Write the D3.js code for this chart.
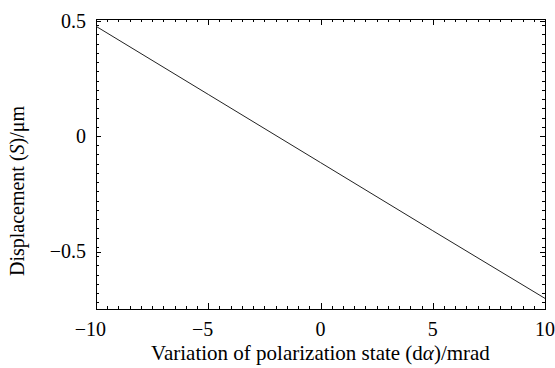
<!DOCTYPE html>
<html>
<head>
<meta charset="utf-8">
<script src="https://cdn.jsdelivr.net/npm/d3@7"></script>
<style>
    body { margin: 0; background: #fff; }
    text { font-family: "Liberation Serif", "Times New Roman", serif; fill: #000; }
</style>
</head>
<body>
<div id="chart"></div>
<script>
// values
const dAlpha = [-10, -5, 0, 5, 10];
const displacement = [0.475, 0.18, -0.115, -0.41, -0.703];
const xTicks = [-10, -5, 0, 5, 10];
const yTicks = [-0.5, 0, 0.5];
const xMinorStep = 0.5;
const yMinorStep = 0.04;

const width = 555, height = 368;
const margin = {left: 96, right: 10, top: 19, bottom: 59};

const svg = d3.select('#chart')
    .append('svg')
    .attr('width', width)
    .attr('height', height);

const x = d3.scaleLinear().domain([-10, 10]).range([margin.left, width - margin.right]);
const y = d3.scaleLinear().domain([-0.5, 0.5]).range([251.5, 20.5]);
const yBottom = height - margin.bottom;
y.domain([y.invert(yBottom), y.invert(margin.top)]).range([yBottom, margin.top]);

const [x0, x1] = x.range();
const [y0, y1] = [yBottom, margin.top];

// minor ticks from the steps, majors from the tick arrays
const xMinor = d3.range(-10, 10 + 1e-9, xMinorStep);
const yMinor = d3.range(0, y.domain()[1], yMinorStep)
    .concat(d3.range(-yMinorStep, y.domain()[0], -yMinorStep));

const ticks = svg.append('g').attr('stroke', '#000').attr('stroke-width', 1);

// x ticks on bottom and top, pointing inwards
xMinor.forEach(v => {
    const major = xTicks.some(t => Math.abs(t - v) < 1e-9);
    const len = major ? 6 : 3;
    const px = Math.round(x(v)) + 0.5;
    ticks.append('line').attr('x1', px).attr('x2', px).attr('y1', y0).attr('y2', y0 - len);
    ticks.append('line').attr('x1', px).attr('x2', px).attr('y1', y1).attr('y2', y1 + len);
});

// y ticks on left and right
const yAll = yMinor.concat(yTicks).filter(v => y(v) > y1 + 1 && y(v) < y0 - 1);
yAll.forEach(v => {
    const major = yTicks.includes(v);
    const len = major ? 5 : 3;
    const py = Math.round(y(v)) + 0.5;
    ticks.append('line').attr('x1', x0).attr('x2', x0 + len).attr('y1', py).attr('y2', py);
    ticks.append('line').attr('x1', x1).attr('x2', x1 - len).attr('y1', py).attr('y2', py);
});

// frame
svg.append('rect')
    .attr('x', x0 + 0.5).attr('y', y1 + 0.5)
    .attr('width', x1 - x0).attr('height', y0 - y1)
    .attr('fill', 'none').attr('stroke', '#000').attr('stroke-width', 1);

// the data line
const line = d3.line()
    .x(d => x(d[0]))
    .y(d => y(d[1]));

svg.append('path')
    .datum(d3.zip(dAlpha, displacement))
    .attr('d', line)
    .attr('fill', 'none')
    .attr('stroke', '#222')
    .attr('stroke-width', 1);

// x tick labels: digits centred on the tick, minus hangs to the left
const fontSize = 20;
xTicks.forEach(v => {
    const t = svg.append('text')
        .attr('x', x(v)).attr('y', y0 + 27)
        .attr('text-anchor', 'middle')
        .attr('font-size', fontSize)
        .text(Math.abs(v));
    if (v < 0) {
        const w = t.node().getComputedTextLength();
        svg.append('text')
            .attr('x', x(v) - w / 2).attr('y', y0 + 27)
            .attr('text-anchor', 'end')
            .attr('font-size', fontSize)
            .text('\u2212');
    }
});

// y tick labels
yTicks.forEach(v => {
    const py = v === 0.5 ? 21 : y(v);
    svg.append('text')
        .attr('x', x0 - 10).attr('y', py)
        .attr('dy', '0.34em')
        .attr('text-anchor', 'end')
        .attr('font-size', fontSize)
        .text(v < 0 ? '\u2212' + Math.abs(v) : String(v));
});

// axis titles
const xTitle = svg.append('text')
    .attr('x', (x0 + x1) / 2).attr('y', 360)
    .attr('text-anchor', 'middle')
    .attr('font-size', 21);
xTitle.append('tspan').text('Variation of polarization state (d');
xTitle.append('tspan').attr('font-style', 'italic').text('\u03b1');
xTitle.append('tspan').text(')/mrad');

const yTitle = svg.append('text')
    .attr('transform', 'translate(24,191) rotate(-90)')
    .attr('text-anchor', 'middle')
    .attr('font-size', 20);
yTitle.append('tspan').text('Displacement (');
yTitle.append('tspan').attr('font-style', 'italic').text('S');
yTitle.append('tspan').text(')/\u03bcm');
</script>
</body>
</html>
